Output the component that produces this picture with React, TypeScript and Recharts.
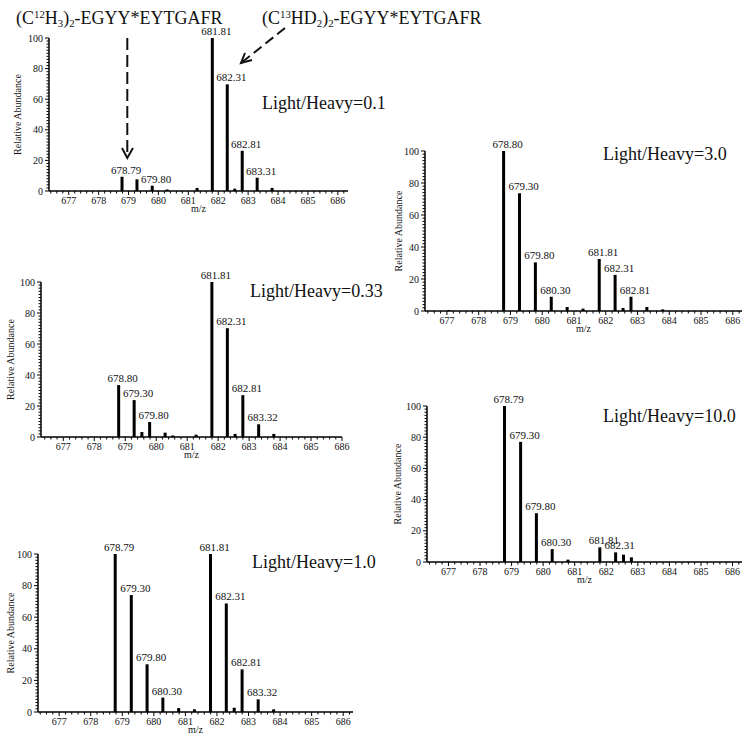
import React from "react";
import { BarChart, Bar, XAxis, YAxis, LabelList } from "recharts";

// m/z peak positions, relative abundances and peak annotations for each ratio
const mz01 = [678.79, 679.29, 679.8, 680.3, 681.3, 681.81, 682.31, 682.56, 682.81, 683.31, 683.81];
const ab01 = [9.3, 7.6, 3.5, 1.0, 2.0, 100, 69.7, 1.5, 26.3, 8.7, 2.0];
const lab01 = ["678.79", "", "679.80", "", "", "681.81", "682.31", "", "682.81", "683.31", ""];

const mz033 = [678.8, 679.3, 679.55, 679.8, 680.3, 680.55, 681.3, 681.81, 682.31, 682.56, 682.81, 683.32, 683.81];
const ab033 = [33.5, 23.8, 3.2, 9.7, 2.8, 1.0, 1.5, 100, 70.2, 2.0, 27.0, 8.2, 2.0];
const lab033 = ["678.80", "679.30", "", "679.80", "", "", "", "681.81", "682.31", "", "682.81", "683.32", ""];

const mz10 = [678.79, 679.3, 679.8, 680.3, 680.8, 681.3, 681.81, 682.31, 682.56, 682.81, 683.32, 683.81];
const ab10 = [100, 74, 30.2, 9.1, 2.5, 1.7, 100, 68.7, 2.7, 27, 8, 1.7];
const lab10 = ["678.79", "679.30", "679.80", "680.30", "", "", "681.81", "682.31", "", "682.81", "683.32", ""];

const mz30 = [677.08, 678.8, 679.3, 679.8, 680.3, 680.8, 681.3, 681.81, 682.31, 682.56, 682.81, 683.31, 683.81];
const ab30 = [0.6, 100, 73.6, 30.4, 8.9, 2.5, 1.5, 32.5, 22.6, 1.9, 8.9, 2.5, 1.0];
const lab30 = ["", "678.80", "679.30", "679.80", "680.30", "", "", "681.81", "682.31", "", "682.81", "", ""];

const mz100 = [678.79, 679.3, 679.8, 680.3, 680.8, 681.81, 682.31, 682.56, 682.81];
const ab100 = [100, 77, 31.3, 8.3, 1.5, 9.4, 6.2, 4.7, 3.0];
const lab100 = ["678.79", "679.30", "679.80", "680.30", "", "681.81", "682.31", "", ""];

const mzMajor = [677, 678, 679, 680, 681, 682, 683, 684, 685, 686];
const abMajor = [0, 20, 40, 60, 80, 100];

const FONT = '"Liberation Serif", "Times New Roman", serif';

const toRows = (mz: number[], ab: number[], lab: string[]) =>
  mz.map((m, i) => ({ mz: m, ab: ab[i], label: lab[i] }));

// minor ticks every 0.2 m/z and every 2 % abundance
const xTicks = (lo: number, hi: number) => {
  const out: number[] = [];
  for (let k = Math.ceil(lo * 5); k <= Math.floor(hi * 5); k++) out.push(k / 5);
  return out;
};
const yTicks: number[] = [];
for (let v = 0; v <= 100; v += 2) yTicks.push(v);

function XTick(props: any) {
  const { x, y, payload } = props;
  const v = payload.value;
  const major = mzMajor.some((m) => Math.abs(m - v) < 1e-6);
  return (
    <g>
      <line x1={x} x2={x} y1={y} y2={y + (major ? 4 : 2.5)} stroke="#000" strokeWidth={1} />
      {major && (
        <text x={x} y={y + 13} textAnchor="middle" fontSize={10} fontFamily={FONT} fill="#111">
          {Math.round(v)}
        </text>
      )}
    </g>
  );
}

function YTick(props: any) {
  const { x, y, payload } = props;
  const v = payload.value;
  const major = abMajor.includes(v);
  return (
    <g>
      <line x1={x - (major ? 4 : 2.5)} x2={x} y1={y} y2={y} stroke="#000" strokeWidth={1} />
      {major && (
        <text x={x - 6} y={y + 3.5} textAnchor="end" fontSize={10} fontFamily={FONT} fill="#111">
          {v}
        </text>
      )}
    </g>
  );
}

function PeakLabel(props: any) {
  const vb = props.viewBox || props;
  const x = vb.x ?? props.x;
  const y = vb.y ?? props.y;
  const w = vb.width ?? props.width ?? 0;
  if (!props.value) return null;
  return (
    <text x={x + w / 2 + 4} y={y - 3} textAnchor="middle" fontSize={11} fontFamily={FONT} fill="#111">
      {props.value}
    </text>
  );
}

type PanelProps = {
  rows: { mz: number; ab: number; label: string }[];
  domain: [number, number];
  left: number;
  top: number;
  plotRight: number;
  height: number;
  yWidth: number;
  yLabelX: number;
};

function Panel({ rows, domain, left, top, plotRight, height, yWidth, yLabelX }: PanelProps) {
  return (
    <div style={{ position: "absolute", left, top }}>
      <BarChart
        width={plotRight + 10}
        height={height}
        data={rows}
        margin={{ top: 20, right: 10, left: 0, bottom: 0 }}
      >
        <XAxis
          dataKey="mz"
          type="number"
          domain={domain}
          allowDataOverflow
          ticks={xTicks(domain[0], domain[1])}
          interval={0}
          tick={<XTick />}
          tickSize={0}
          tickMargin={0}
          tickLine={false}
          axisLine={{ stroke: "#000", strokeWidth: 1.5 }}
          height={22}
          label={{
            value: "m/z",
            position: "insideBottom",
            offset: 1,
            style: { fontSize: 10, fontFamily: FONT, fill: "#111" },
          }}
        />
        <YAxis
          type="number"
          domain={[0, 100]}
          ticks={yTicks}
          interval={0}
          tick={<YTick />}
          tickSize={0}
          tickMargin={0}
          tickLine={false}
          axisLine={{ stroke: "#000", strokeWidth: 1.5 }}
          width={yWidth}
          label={{
            value: "Relative Abundance",
            angle: -90,
            position: "insideLeft",
            offset: yLabelX,
            style: { textAnchor: "middle", fontSize: 10, fontFamily: FONT, fill: "#111" },
          }}
        />
        <Bar dataKey="ab" fill="#000" barSize={3} isAnimationActive={false}>
          <LabelList dataKey="label" content={PeakLabel} />
        </Bar>
      </BarChart>
    </div>
  );
}

const ratioStyle: React.CSSProperties = {
  position: "absolute",
  fontFamily: FONT,
  fontSize: 18,
  lineHeight: 1,
  color: "#111",
  whiteSpace: "nowrap",
};

const sup: React.CSSProperties = { fontSize: "0.6em", position: "relative", top: "-0.55em" };
const sub: React.CSSProperties = { fontSize: "0.6em", position: "relative", top: "0.3em" };

export default function App() {
  return (
    <div
      style={{
        position: "absolute",
        left: 0,
        top: 0,
        width: 750,
        height: 739,
        background: "#fff",
        overflow: "hidden",
      }}
    >
      <div style={{ ...ratioStyle, left: 16, top: 9 }}>
        (C<span style={sup}>12</span>H<span style={sub}>3</span>)<span style={sub}>2</span>-EGYY*EYTGAFR
      </div>
      <div style={{ ...ratioStyle, left: 262, top: 9 }}>
        (C<span style={sup}>13</span>HD<span style={sub}>2</span>)<span style={sub}>2</span>-EGYY*EYTGAFR
      </div>

      <Panel rows={toRows(mz01, ab01, lab01)} domain={[676.34, 686.34]} left={0} top={18} plotRight={348} height={195} yWidth={49} yLabelX={17} />
      <Panel rows={toRows(mz033, ab033, lab033)} domain={[676.28, 686.0]} left={0} top={262} plotRight={342} height={197} yWidth={41} yLabelX={10} />
      <Panel rows={toRows(mz10, ab10, lab10)} domain={[676.33, 686.31]} left={0} top={534} plotRight={353} height={200} yWidth={38} yLabelX={10} />
      <Panel rows={toRows(mz30, ab30, lab30)} domain={[676.31, 686.29]} left={380} top={131} plotRight={362} height={202} yWidth={45} yLabelX={18} />
      <Panel rows={toRows(mz100, ab100, lab100)} domain={[676.32, 686.3]} left={380} top={386} plotRight={362} height={198} yWidth={47} yLabelX={17} />

      <div style={{ ...ratioStyle, left: 262, top: 94 }}>Light/Heavy=0.1</div>
      <div style={{ ...ratioStyle, left: 250, top: 282 }}>Light/Heavy=0.33</div>
      <div style={{ ...ratioStyle, left: 252, top: 553 }}>Light/Heavy=1.0</div>
      <div style={{ ...ratioStyle, left: 603, top: 145 }}>Light/Heavy=3.0</div>
      <div style={{ ...ratioStyle, left: 603, top: 407 }}>Light/Heavy=10.0</div>

      <svg
        width={750}
        height={739}
        style={{ position: "absolute", left: 0, top: 0, pointerEvents: "none" }}
      >
        <line x1={127.3} y1={38} x2={127.3} y2={156} stroke="#111" strokeWidth={2} strokeDasharray="12 5" />
        <polyline points="122,148 127.3,158 133,148" fill="none" stroke="#111" strokeWidth={2} />
        <line x1={285} y1={28} x2={243} y2={61.5} stroke="#111" strokeWidth={2} strokeDasharray="10 5" />
        <polyline points="252,60 241,63 245,53" fill="none" stroke="#111" strokeWidth={2} />
      </svg>
    </div>
  );
}
